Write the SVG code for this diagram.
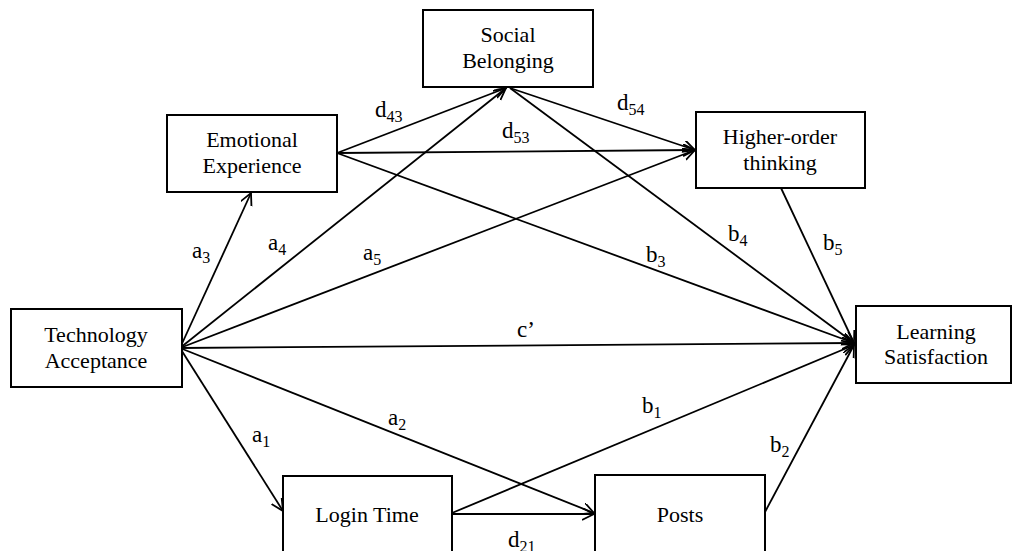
<svg xmlns="http://www.w3.org/2000/svg" width="1013" height="551" viewBox="0 0 1013 551">
<style>
.box{fill:#fff;stroke:#000;stroke-width:2}
.nt{font-size:22px;fill:#000;text-anchor:middle}
.lb{font-size:23px;fill:#000}
.sb{font-size:16px}
.cn line{stroke:#000;stroke-width:1.8;fill:none;marker-end:url(#ah)}
</style>
<defs>
<marker id="ah" markerUnits="userSpaceOnUse" markerWidth="14" markerHeight="14" refX="12" refY="6" orient="auto">
<path d="M0,0 L12,6 L0,12" fill="none" stroke="#000" stroke-width="1.8"/>
</marker>
</defs>
<rect width="1013" height="551" fill="#fff"/>
<g id="connectors" class="cn">
<line x1="180" y1="348" x2="251" y2="193"/>
<line x1="180" y1="348" x2="506" y2="88"/>
<line x1="180" y1="348" x2="695" y2="150"/>
<line x1="180" y1="348" x2="854" y2="343"/>
<line x1="180" y1="348" x2="283" y2="511"/>
<line x1="180" y1="348" x2="594" y2="513"/>
<line x1="452" y1="514" x2="594" y2="514"/>
<line x1="452" y1="513" x2="854" y2="345"/>
<line x1="765" y1="512" x2="854" y2="345"/>
<line x1="337" y1="153" x2="506" y2="88"/>
<line x1="337" y1="153" x2="695" y2="150"/>
<line x1="337" y1="153" x2="854" y2="343"/>
<line x1="510" y1="88" x2="695" y2="150"/>
<line x1="510" y1="88" x2="854" y2="343"/>
<line x1="781" y1="188" x2="854" y2="343"/>
</g>
<g id="labels" class="lb" font-family="'Liberation Serif', 'DejaVu Serif', serif">
<text x="192" y="258">a<tspan class="sb" dy="5">3</tspan></text>
<text x="268" y="250">a<tspan class="sb" dy="5">4</tspan></text>
<text x="363" y="260">a<tspan class="sb" dy="5">5</tspan></text>
<text x="517" y="337">c’</text>
<text x="646" y="262">b<tspan class="sb" dy="5">3</tspan></text>
<text x="728" y="241">b<tspan class="sb" dy="5">4</tspan></text>
<text x="823" y="250">b<tspan class="sb" dy="5">5</tspan></text>
<text x="252" y="442">a<tspan class="sb" dy="5">1</tspan></text>
<text x="388" y="425">a<tspan class="sb" dy="5">2</tspan></text>
<text x="642" y="413">b<tspan class="sb" dy="5">1</tspan></text>
<text x="770" y="452">b<tspan class="sb" dy="5">2</tspan></text>
<text x="508" y="547">d<tspan class="sb" dy="5">21</tspan></text>
<text x="375" y="117">d<tspan class="sb" dy="5">43</tspan></text>
<text x="502" y="138">d<tspan class="sb" dy="5">53</tspan></text>
<text x="617" y="110">d<tspan class="sb" dy="5">54</tspan></text>
</g>
<g font-family="'Liberation Serif', 'DejaVu Serif', serif">
<g id="emotional-experience">
<rect class="box" x="167" y="115" width="170" height="77"/>
<text class="nt" x="252" y="147">Emotional</text>
<text class="nt" x="252" y="173">Experience</text>
</g>
<g id="social-belonging">
<rect class="box" x="423" y="10" width="170" height="77"/>
<text class="nt" x="508" y="42">Social</text>
<text class="nt" x="508" y="68">Belonging</text>
</g>
<g id="higher-order-thinking">
<rect class="box" x="696" y="112" width="169" height="76"/>
<text class="nt" x="780" y="144">Higher-order</text>
<text class="nt" x="780" y="170">thinking</text>
</g>
<g id="technology-acceptance">
<rect class="box" x="11" y="309" width="171" height="78"/>
<text class="nt" x="96" y="342">Technology</text>
<text class="nt" x="96" y="368">Acceptance</text>
</g>
<g id="learning-satisfaction">
<rect class="box" x="856" y="306" width="155" height="77"/>
<text class="nt" x="936" y="339">Learning</text>
<text class="nt" x="936" y="364">Satisfaction</text>
</g>
<g id="login-time">
<rect class="box" x="283" y="476" width="169" height="85"/>
<text class="nt" x="367" y="522">Login Time</text>
</g>
<g id="posts">
<rect class="box" x="595" y="475" width="170" height="86"/>
<text class="nt" x="680" y="522">Posts</text>
</g>
</g>
</svg>
